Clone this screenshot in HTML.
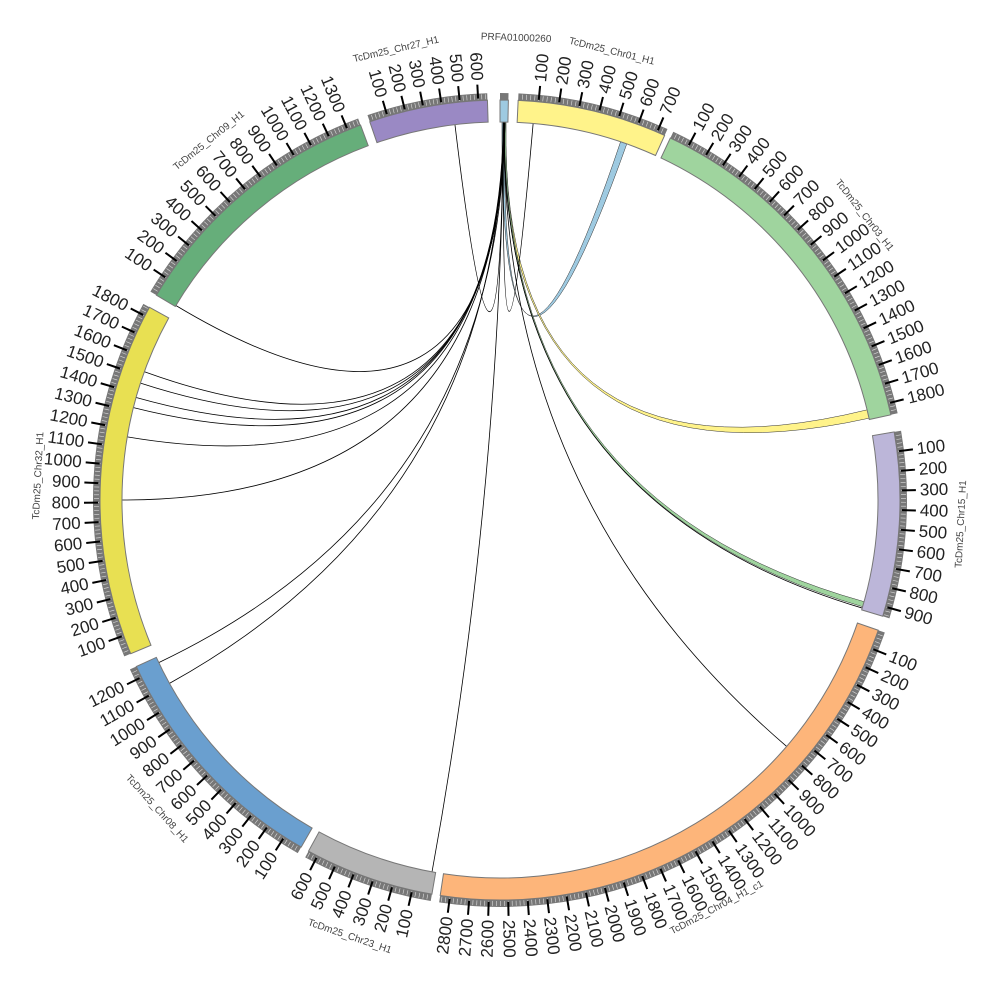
<!DOCTYPE html>
<html><head><meta charset="utf-8"><style>
html,body{margin:0;padding:0;background:#fff;}
svg{display:block;font-family:"Liberation Sans",sans-serif;}
</style></head><body>
<svg id="s" width="1000" height="1000" viewBox="0 0 1000 1000" xmlns="http://www.w3.org/2000/svg">
<g id="links" fill="none"></g>
<g id="ideo"></g>
<g id="names" font-size="10" fill="#444">
<text x="0" y="0" data-a="347" data-n="1">TcDm25_Chr27_H1</text>
<text x="0" y="0" data-a="2" data-n="1">PRFA01000260</text>
<text x="0" y="0" data-a="14" data-n="1">TcDm25_Chr01_H1</text>
<text x="0" y="0" data-a="52" data-n="1">TcDm25_Chr03_H1</text>
<text x="0" y="0" data-a="93" data-n="1">TcDm25_Chr15_H1</text>
<text x="0" y="0" data-a="152" data-n="1">TcDm25_Chr04_H1_c1</text>
<text x="0" y="0" data-a="199" data-n="1">TcDm25_Chr23_H1</text>
<text x="0" y="0" data-a="228" data-n="1">TcDm25_Chr08_H1</text>
<text x="0" y="0" data-a="273" data-n="1">TcDm25_Chr32_H1</text>
<text x="0" y="0" data-a="321" data-n="1">TcDm25_Chr09_H1</text>
</g>
</svg>
<script>
const NS="http://www.w3.org/2000/svg",CX=500,CY=500,RI=378,RO=400;
function P(r,a){a=a*Math.PI/180;return [CX+r*Math.sin(a),CY-r*Math.cos(a)];}
function el(t,at,p){const e=document.createElementNS(NS,t);for(const k in at)e.setAttribute(k,at[k]);(p||document.getElementById('ideo')).appendChild(e);return e;}
const chr=[
[0,1.2,10,"#9ecae1"],
[2.6,24.3,740,"#fff38a"],
[25.2,77.7,1860,"#9fd49e"],
[80.2,106.9,950,"#bcb6d9"],
[109,188.6,2850,"#fdb57a"],
[189.8,208.6,650,"#b5b5b5"],
[209.8,245.4,1260,"#6a9fcf"],
[247.4,298.8,1850,"#e8e052"],
[300.8,339.6,1370,"#66ae7a"],
[341,358.2,650,"#9a89c4"]];
function arc(r1,r2,a1,a2){const p1=P(r2,a1),p2=P(r2,a2),p3=P(r1,a2),p4=P(r1,a1),l=(a2-a1)>180?1:0;
return `M${p1}A${r2},${r2} 0 ${l} 1 ${p2}L${p3}A${r1},${r1} 0 ${l} 0 ${p4}Z`;}
const lk=document.getElementById('links');
function ang(x,y){let a=Math.atan2(x-CX,-(y-CY))*180/Math.PI;return a<0?a+360:a;}
function link(a1,a2,col){const p=P(RI,a1),q=P(RI,a2);el('path',{d:`M${p}Q${CX},${CY} ${q}`,stroke:col||"#000","stroke-width":0.8},lk);}
function ribbon(a1,a2,b1,b2,col){const p1=P(RI,a1),p2=P(RI,a2),q1=P(RI,b1),q2=P(RI,b2);
el('path',{d:`M${p1}A${RI},${RI} 0 0 1 ${p2}Q${CX},${CY} ${q1}A${RI},${RI} 0 0 1 ${q2}Q${CX},${CY} ${p1}Z`,fill:col,stroke:"#333","stroke-width":0.5},lk);}
ribbon(0.3,0.7,18.6,19.6,"#9ecae1");
ribbon(0.5,0.9,76.2,77.5,"#fff38a");
ribbon(0.6,0.9,105.6,106.4,"#9fd49e");
const ends=[[455,125],[533,125],[175,305],[145,372],[140,383],[138,398],[135,408],[128,437],[122,500],[160,662],[172,682],[432,872],[785,745],[862,608]];
ends.forEach((e,i)=>link(0.5+(i%5)*0.06,ang(e[0],e[1])));
for(const c of chr){
 const [a1,a2,len,col]=c;
 el('path',{d:arc(RO,RO+7,a1,a2),fill:"#777"});
 for(let v=20;v<len;v+=20){const a=a1+(a2-a1)*v/len;const p=P(RO+1,a),q=P(RO+6,a);el('line',{x1:p[0],y1:p[1],x2:q[0],y2:q[1],stroke:"#ddd","stroke-width":0.6});}
 el('path',{d:arc(RI,RO,a1,a2),fill:col,stroke:"#777","stroke-width":1});
 if(len<100)continue;
 for(let v=100;v<len;v+=100){const a=a1+(a2-a1)*v/len;const p=P(RO+2,a),q=P(RO+16,a);
  el('line',{x1:p[0],y1:p[1],x2:q[0],y2:q[1],stroke:"#000","stroke-width":2});
  const t=P(RO+20,a);const right=a<180;
  const tx=el('text',{x:t[0],y:t[1],"font-size":17,fill:"#222","dominant-baseline":"central","text-anchor":right?"start":"end",transform:`rotate(${right?a-90:a+90} ${t[0]} ${t[1]})`});
  tx.textContent=v;}
}
document.querySelectorAll('#names text').forEach(t=>{const a=+t.dataset.a;const p=P(462,a);
 const rot=(a>90&&a<270)?a-180:a;t.setAttribute('x',p[0]);t.setAttribute('y',p[1]);t.setAttribute('text-anchor','middle');t.setAttribute('dominant-baseline','central');
 t.setAttribute('transform',`rotate(${rot} ${p[0]} ${p[1]})`);});
</script>
</body></html>
